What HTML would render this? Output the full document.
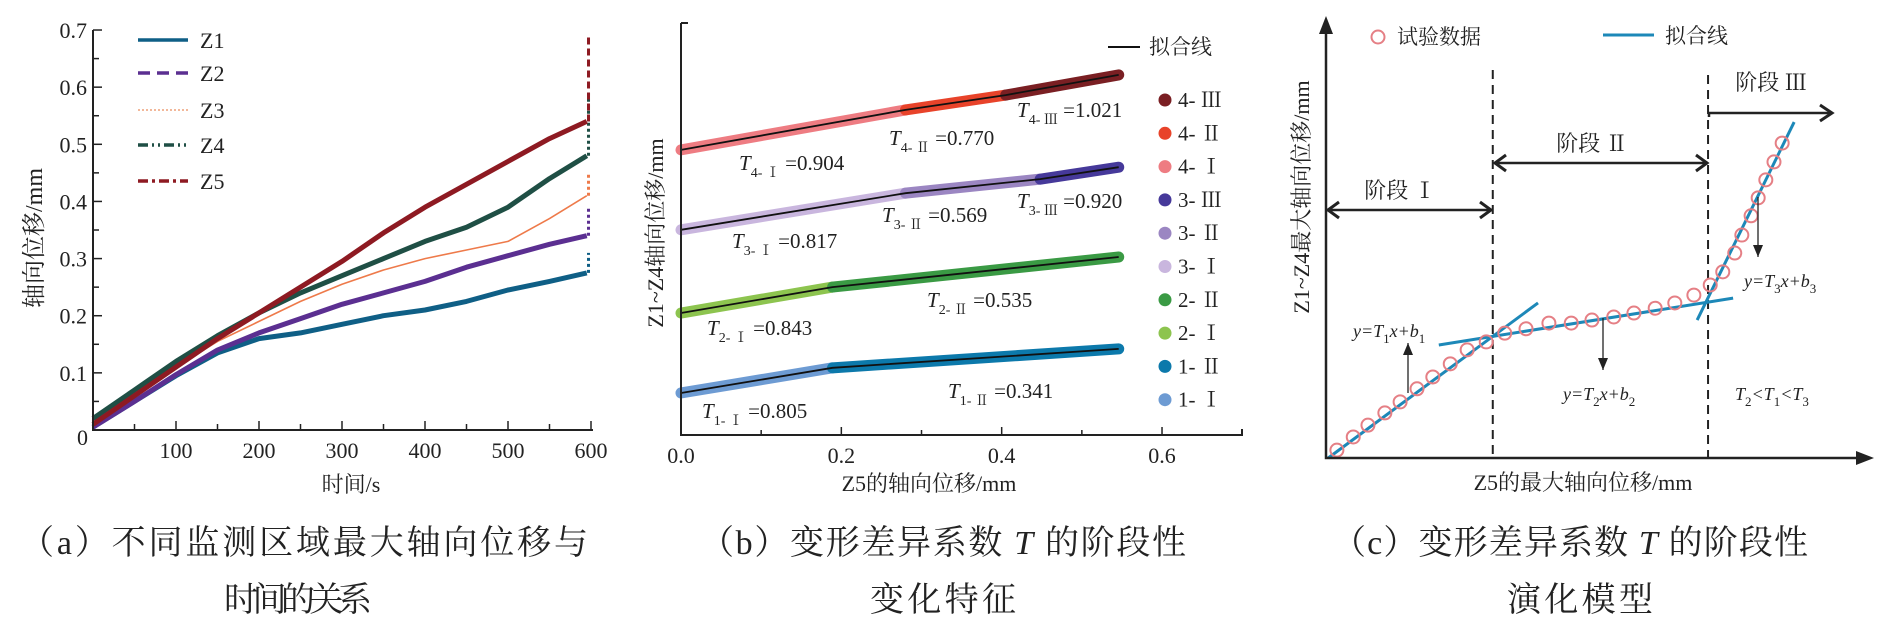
<!DOCTYPE html>
<html><head><meta charset="utf-8"><style>
html,body{margin:0;padding:0;background:#fff;}
svg{display:block;}
text{font-family:"Liberation Serif","Noto Serif CJK SC",serif;fill:#222;}
</style></head><body>
<svg id="fig" width="1887" height="628" viewBox="0 0 1887 628" xmlns="http://www.w3.org/2000/svg">
<g id="pa"></g>
<g id="pb"></g>
<g id="pc"></g>
<text x="304" y="554" text-anchor="middle" font-size="34" textLength="568" lengthAdjust="spacing">（a）不同监测区域最大轴向位移与</text>
<text x="298" y="611" text-anchor="middle" font-size="34" textLength="148" lengthAdjust="spacing">时间的关系</text>
<text x="943" y="554" text-anchor="middle" font-size="34" textLength="486" lengthAdjust="spacing">（b）变形差异系数 <tspan font-style="italic">T</tspan> 的阶段性</text>
<text x="943" y="611" text-anchor="middle" font-size="34" textLength="146" lengthAdjust="spacing">变化特征</text>
<text x="1570" y="554" text-anchor="middle" font-size="34" textLength="476" lengthAdjust="spacing">（c）变形差异系数 <tspan font-style="italic">T</tspan> 的阶段性</text>
<text x="1580" y="611" text-anchor="middle" font-size="34" textLength="146" lengthAdjust="spacing">演化模型</text>
</svg>
<script>
// ---------- Panel (a) data ----------
const aTime=[0,50,100,150,200,250,300,350,400,450,500,550,595];
const aZ1=[0.005,0.05,0.095,0.135,0.16,0.17,0.185,0.20,0.21,0.225,0.245,0.26,0.275];
const aZ2=[0.005,0.05,0.097,0.14,0.17,0.195,0.22,0.24,0.26,0.285,0.305,0.325,0.34];
const aZ3=[0.01,0.06,0.11,0.155,0.19,0.225,0.255,0.28,0.30,0.315,0.33,0.37,0.41];
const aZ4=[0.02,0.07,0.12,0.165,0.205,0.24,0.27,0.30,0.33,0.355,0.39,0.44,0.48];
const aZ5=[0.01,0.06,0.11,0.16,0.205,0.25,0.295,0.345,0.39,0.43,0.47,0.51,0.54];
const aSpike=[0.31,0.39,0.45,0.59,0.69];
const aNames=["Z1","Z2","Z3","Z4","Z5"];
const aXTicks=[100,200,300,400,500,600];
const aYTicks=[0,0.1,0.2,0.3,0.4,0.5,0.6,0.7];
// ---------- Panel (b) data ----------
const bX4=[0,0.28,0.405,0.546]; const bY4=[0.692,0.789,0.825,0.874];
const bX3=[0,0.28,0.448,0.546]; const bY3=[0.498,0.587,0.621,0.650];
const bX2=[0,0.189,0.546]; const bY2=[0.296,0.359,0.432];
const bX1=[0,0.189,0.546]; const bY1=[0.102,0.163,0.209];
const bXTicks=[0.0,0.2,0.4,0.6];
const bLegend=["4- Ⅲ","4- Ⅱ","4- Ⅰ","3- Ⅲ","3- Ⅱ","3- Ⅰ","2- Ⅱ","2- Ⅰ","1- Ⅱ","1- Ⅰ"];
const bTValues=["0.904","0.770","1.021","0.817","0.569","0.920","0.843","0.535","0.805","0.341"];
const bTSubs=["4- Ⅰ","4- Ⅱ","4- Ⅲ","3- Ⅰ","3- Ⅱ","3- Ⅲ","2- Ⅰ","2- Ⅱ","1- Ⅰ","1- Ⅱ"];
// ---------- Panel (c) data ----------
const cPX=[2.0,5.0,7.7,10.8,13.6,16.7,19.6,22.8,25.9,29.4,32.8,36.7,40.9,45.0,48.8,52.8,56.5,60.4,64.0,67.5,70.5,72.8,75.0,76.3,78.0,79.3,80.7,82.2,83.7];
const cPY=[1.8,4.8,7.5,10.3,12.8,15.8,18.5,21.5,24.7,26.5,28.5,29.5,30.8,30.8,31.5,32.2,33.1,34.2,35.4,37.2,39.5,42.5,46.8,50.9,55.3,59.4,63.5,67.6,71.9];
const cFitX1=[0.4,20.7,68.1]; const cFitY1=[0,25.8,31.5];
const cFitX2=[38.9,74.7,85.9]; const cFitY2=[35.4,36.5,76.7];
const cStageBounds=[30.6,70.1];

const NS="http://www.w3.org/2000/svg";
function mk(parent,tag,attrs,txt){const e=document.createElementNS(NS,tag);for(const k in attrs)e.setAttribute(k,attrs[k]);if(txt!==undefined)e.textContent=txt;parent.appendChild(e);return e;}
const pa=document.getElementById('pa'),pb=document.getElementById('pb'),pc=document.getElementById('pc');

// ===== Panel A =====
const xa=t=>93+t*0.83, ya=v=>430-v*571.4;
const aColors=["#0f5f86","#5b2f91","#ee7a4a","#1f4f45","#8e1a22"];
const aWidths=[5,5,1.6,5,5];
const aSeries=[aZ1,aZ2,aZ3,aZ4,aZ5];
aSeries.forEach((s,i)=>{
  const d=s.map((v,j)=>(j?'L':'M')+xa(aTime[j]).toFixed(1)+','+ya(v).toFixed(1)).join(' ');
  const p=mk(pa,'path',{d:d,fill:'none',stroke:aColors[i],'stroke-width':aWidths[i],'stroke-linejoin':'round'});
  
  
  const sp=mk(pa,'line',{x1:xa(597),x2:xa(597),y1:ya(s[s.length-1]),y2:ya(aSpike[i]),stroke:aColors[i],'stroke-width':3,'stroke-dasharray':i==4?'7 4':'3 3'});
  
  
});
// axes
let ax=mk(pa,'path',{d:`M93,${ya(0.7)} L93,430 L${xa(600)+2},430`,fill:'none',stroke:'#222','stroke-width':2});


for(let t=50;t<=600;t+=50){const tk=mk(pa,'line',{x1:xa(t),x2:xa(t),y1:430,y2:t%100?424:421,stroke:'#222','stroke-width':1.5});
  
  }
for(let k=1;k<=14;k++){const v=k*0.05;const tk=mk(pa,'line',{x1:93,x2:k%2?99:102,y1:ya(v),y2:ya(v),stroke:'#222','stroke-width':1.5});
  
  }
aXTicks.forEach(t=>{const e=mk(pa,'text',{x:xa(t),y:458,'text-anchor':'middle','font-size':22},String(t));
  
  });
aYTicks.forEach(v=>{const e=mk(pa,'text',{x:v===0?88:87,y:ya(v)+(v===0?15:8),'text-anchor':'end','font-size':22},v===0?'0':v.toFixed(1));
  
  });
let t1=mk(pa,'text',{x:351,y:492,'text-anchor':'middle','font-size':22},'时间/s');


let t2=mk(pa,'text',{x:0,y:0,'text-anchor':'middle','font-size':24,transform:'translate(42,238) rotate(-90)'},'轴向位移/mm');


const aDash=['none','12 7','2 2','10 4 2 4 2 4','10 4 3 4'];
const aLegY=[40,73,110,145,181];
aNames.forEach((n,i)=>{
  const l=mk(pa,'line',{x1:138,x2:188,y1:aLegY[i],y2:aLegY[i],stroke:i==2?'#f2b89a':aColors[i],'stroke-width':i==2?2:3.5,'stroke-dasharray':aDash[i]});
  
  
  const tx=mk(pa,'text',{x:200,y:aLegY[i]+8,'font-size':22},n);
  
  
});

// ===== Panel B =====
const xb=m=>681+m*801.7, yb=v=>435-v*412;
const bSeries=[[bX4,bY4,["#ee7c82","#e8432a","#7a1f23"]],[bX3,bY3,["#c9b6de","#9b86c2","#46399a"]],[bX2,bY2,["#8dc44f","#3a9a44"]],[bX1,bY1,["#6d9bd3","#0c79ab"]]];
bSeries.forEach((s,si)=>{
  const [X,Y,cols]=s;
  for(let j=0;j<X.length-1;j++){
    const b=mk(pb,'line',{x1:xb(X[j]),y1:yb(Y[j]),x2:xb(X[j+1]),y2:yb(Y[j+1]),stroke:cols[j],'stroke-width':11,'stroke-linecap':'round'});
    
    
  }
  const d=X.map((x,j)=>(j?'L':'M')+xb(x).toFixed(1)+','+yb(Y[j]).toFixed(1)).join(' ');
  const f=mk(pb,'path',{d:d,fill:'none',stroke:'#111','stroke-width':1.8});
  
  
});
let bx=mk(pb,'path',{d:`M681,23 L681,435 L1242,435 L1242,429`,fill:'none',stroke:'#222','stroke-width':2});


let byt=mk(pb,'line',{x1:681,x2:688,y1:23,y2:23,stroke:'#222','stroke-width':2});


for(let k=1;k<=6;k++){const m=k*0.1;const tk=mk(pb,'line',{x1:xb(m),x2:xb(m),y1:435,y2:k%2?430:427,stroke:'#222','stroke-width':1.5});
  
  }
bXTicks.forEach(m=>{const e=mk(pb,'text',{x:xb(m),y:463,'text-anchor':'middle','font-size':22},m.toFixed(1));
  
  });
let bt1=mk(pb,'text',{x:929,y:491,'text-anchor':'middle','font-size':22},'Z5的轴向位移/mm');


let bt2=mk(pb,'text',{x:0,y:0,'text-anchor':'middle','font-size':22,transform:'translate(663,233) rotate(-90)'},'Z1~Z4轴向位移/mm');


// T annotations
const bLabX=[739,889,1017,732,882,1017,707,927,702,948];
const bLabY=[170,145,117,248,222,208,335,307,418,398];
bTValues.forEach((v,i)=>{
  const t=mk(pb,'text',{x:bLabX[i],y:bLabY[i],'font-size':21});
  
  
  mk(t,'tspan',{'font-style':'italic'},'T');
  mk(t,'tspan',{dy:7,'font-size':14},bTSubs[i]);
  mk(t,'tspan',{dy:-7},' ='+v);
});
const bLegCols=["#7a1f23","#e8432a","#ee7c82","#46399a","#9b86c2","#c9b6de","#3a9a44","#8dc44f","#0c79ab","#6d9bd3"];
bLegend.forEach((n,i)=>{
  const y=100+i*33.3;
  const c=mk(pb,'circle',{cx:1165,cy:y,r:6.5,fill:bLegCols[i]});
  
  
  const t=mk(pb,'text',{x:1178,y:y+7,'font-size':21},n);
  
  
});
let bl=mk(pb,'line',{x1:1108,x2:1140,y1:47,y2:47,stroke:'#111','stroke-width':2});


let blt=mk(pb,'text',{x:1149,y:54,'font-size':21},'拟合线');



// ===== Panel C =====
const xc=u=>1326+u*5.45, yc=u=>458-u*4.38;
cStageBounds.forEach((u,i)=>{
  const l=mk(pc,'line',{x1:xc(u),x2:xc(u),y1:i?75:70,y2:458,stroke:'#222','stroke-width':2,'stroke-dasharray':'9 6'});
  
  
});
cFitX1.forEach((x,i)=>{
  const l=mk(pc,'line',{x1:xc(x),y1:yc(cFitY1[i]),x2:xc(cFitX2[i]),y2:yc(cFitY2[i]),stroke:'#1d88b8','stroke-width':3});
  
  
});
cPX.forEach((x,i)=>{
  const c=mk(pc,'circle',{cx:xc(x),cy:yc(cPY[i]),r:6.5,fill:'none',stroke:'#e57f85','stroke-width':2});
  
  
});
let cax=mk(pc,'path',{d:'M1326,30 L1326,458 L1860,458',fill:'none',stroke:'#222','stroke-width':2.5});


let ca1=mk(pc,'path',{d:'M1326,16 L1319,34 L1333,34 Z',fill:'#222'});


let ca2=mk(pc,'path',{d:'M1874,458 L1856,451 L1856,465 Z',fill:'#222'});


function dbl(x1,x2,y,name){
  const g=mk(pc,'g',{});
  
  
  mk(g,'line',{x1:x1,x2:x2,y1:y,y2:y,stroke:'#222','stroke-width':2.5});
  mk(g,'path',{d:`M${x1+12},${y-8} L${x1+1},${y} L${x1+12},${y+8}`,fill:'none',stroke:'#222','stroke-width':3});
  mk(g,'path',{d:`M${x2-12},${y-8} L${x2-1},${y} L${x2-12},${y+8}`,fill:'none',stroke:'#222','stroke-width':3});
}
dbl(1327,1492,210,'stage-1-span');
dbl(1494,1708,163,'stage-2-span');
let g3=mk(pc,'g',{});


mk(g3,'path',{d:'M1709,117 L1709,113 L1832,113',fill:'none',stroke:'#222','stroke-width':2.5});
mk(g3,'path',{d:'M1820,105 L1832,113 L1820,121',fill:'none',stroke:'#222','stroke-width':3});
const cStageTxt=[['阶段 Ⅰ',1400,198],['阶段 Ⅱ',1592,151],['阶段 Ⅲ',1771,90]];
cStageTxt.forEach((s,i)=>{const t=mk(pc,'text',{x:s[1],y:s[2],'text-anchor':'middle','font-size':22},s[0]);
  
  });
function arrow(x,y1,y2,name){
  const g=mk(pc,'g',{});
  
  
  mk(g,'line',{x1:x,x2:x,y1:y1,y2:y2,stroke:'#222','stroke-width':1.3});
  const dir=y2>y1?1:-1;
  mk(g,'path',{d:`M${x},${y2} L${x-5},${y2-dir*12} L${x+5},${y2-dir*12} Z`,fill:'#222'});
}
arrow(1408,393,343,'arrow-eq1');
arrow(1603,318,370,'arrow-eq2');
arrow(1758,197,257,'arrow-eq3');
function eq(x,y,n,name){
  const t=mk(pc,'text',{x:x,y:y,'font-size':18,'font-style':'italic'});
  
  
  mk(t,'tspan',{},'y=T');mk(t,'tspan',{dy:6,'font-size':13,'font-style':'normal'},n);
  mk(t,'tspan',{dy:-6},'x+b');mk(t,'tspan',{dy:6,'font-size':13,'font-style':'normal'},n);
}
eq(1353,337,'1','equation-stage-1');
eq(1563,400,'2','equation-stage-2');
eq(1744,287,'3','equation-stage-3');
let ineq=mk(pc,'text',{x:1735,y:400,'font-size':18,'font-style':'italic'});


[['T',0],['2',1],['<T',0],['1',1],['<T',0],['3',1]].forEach((p,i)=>{mk(ineq,'tspan',p[1]?{dy:6,'font-size':13,'font-style':'normal'}:{dy:i?-6:0},p[0]);});
let cxl=mk(pc,'text',{x:1583,y:490,'text-anchor':'middle','font-size':22},'Z5的最大轴向位移/mm');


let cyl=mk(pc,'text',{x:0,y:0,'text-anchor':'middle','font-size':22,transform:'translate(1309,197) rotate(-90)'},'Z1~Z4最大轴向位移/mm');


let lc=mk(pc,'circle',{cx:1378,cy:37,r:6.5,fill:'none',stroke:'#e57f85','stroke-width':2});


let lct=mk(pc,'text',{x:1397,y:44,'font-size':21},'试验数据');


let ll=mk(pc,'line',{x1:1603,x2:1654,y1:35,y2:35,stroke:'#1d88b8','stroke-width':3});


let llt=mk(pc,'text',{x:1665,y:43,'font-size':21},'拟合线');


</script>
</body></html>
